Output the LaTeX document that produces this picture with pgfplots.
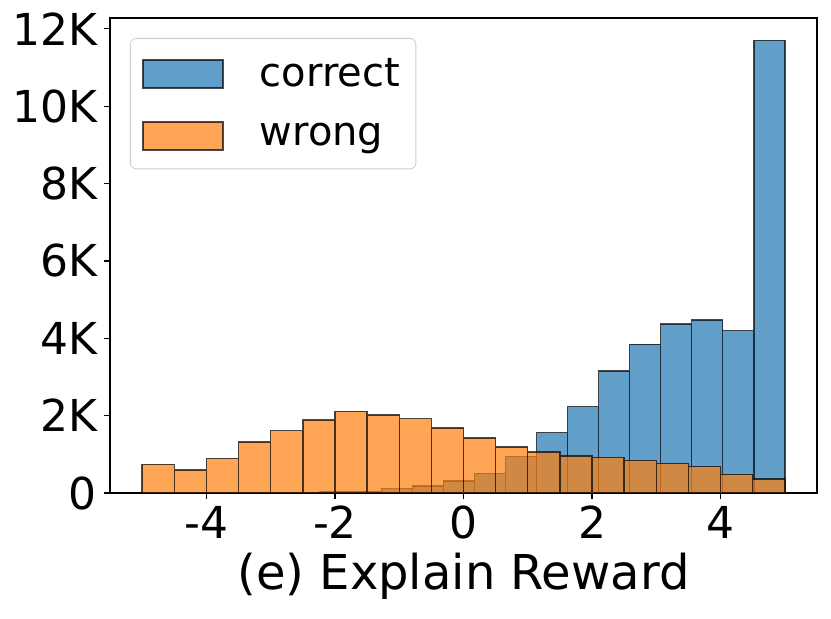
\documentclass[border=0pt]{standalone}
\usepackage{fontspec}
\setmainfont{DejaVu Sans}
\usepackage{pgfplots}
\pgfplotsset{compat=1.18}
\definecolor{mplblue}{HTML}{1F77B4}
\definecolor{mplorange}{HTML}{FF7F0E}
\begin{document}
\begin{tikzpicture}
\begin{axis}[
  scale only axis,
  width=353.5pt, height=237.5pt,
  xmin=-5.5, xmax=5.5, ymin=0, ymax=12280,
  axis line style={line width=0.6pt, black},
  tick style={line width=0.6pt, black},
  tick align=outside, major tick length=3pt,
  xtick={-4,-2,0,2,4},
  ytick={0,2000,4000,6000,8000,10000,12000},
  yticklabels={0,2K,4K,6K,8K,10K,12K},
  scaled ticks=false,
  /pgf/number format/assume math mode=true,
  xtick pos=bottom, ytick pos=left,
  ticklabel style={font=\fontsize{22}{26}\selectfont},
  xlabel={(e) Explain Reward},
  xlabel style={font=\fontsize{24}{28}\selectfont},
  legend cell align=left,
  legend style={at={(0,1)}, xshift=10pt, yshift=-10pt, anchor=north west,
    draw=black!20, fill=white, fill opacity=0.8, text opacity=1, rounded corners=3pt,
    font=\fontsize{20}{24}\selectfont, inner xsep=6pt, inner ysep=8pt,
    row sep=13pt},
]
\addplot[ybar interval, fill=mplblue, fill opacity=0.7, draw=black, draw opacity=0.7, line width=0.7pt,
  legend image code/.code={\draw[sharp corners, fill=mplblue, fill opacity=0.7, draw=black, draw opacity=0.7, line width=0.7pt] (0pt,-7pt) rectangle (40pt,7pt);}]
coordinates {
(-4.658,3) (-4.175,0) (-3.692,2) (-3.209,5) (-2.726,15)
(-2.244,40) (-1.761,45) (-1.278,112) (-0.795,181) (-0.312,310)
(0.171,509) (0.654,939) (1.137,1560) (1.620,2233) (2.103,3157)
(2.586,3846) (3.068,4364) (3.551,4476) (4.034,4200) (4.517,11700)
(5.000,11700)
};
\addlegendentry{\hspace{16pt}correct}
\addplot[ybar interval, fill=mplorange, fill opacity=0.7, draw=black, draw opacity=0.7, line width=0.7pt,
  legend image code/.code={\draw[sharp corners, fill=mplorange, fill opacity=0.7, draw=black, draw opacity=0.7, line width=0.7pt] (0pt,-7pt) rectangle (40pt,7pt);}]
coordinates {
(-5.0,743) (-4.5,595) (-4.0,897) (-3.5,1320) (-3.0,1612)
(-2.5,1889) (-2.0,2113) (-1.5,2018) (-1.0,1923) (-0.5,1682)
(0.0,1423) (0.5,1190) (1.0,1055) (1.5,957) (2.0,914)
(2.5,845) (3.0,767) (3.5,681) (4.0,483) (4.5,362)
(5.0,362)
};
\addlegendentry{\hspace{16pt}wrong}
\end{axis}
\path (current axis.south west) ++(-55pt,-63pt) coordinate (bbsw);
\path (current axis.north east) ++(7pt,9pt) coordinate (bbne);
\path (bbsw) rectangle (bbne);
\end{tikzpicture}
\end{document}
